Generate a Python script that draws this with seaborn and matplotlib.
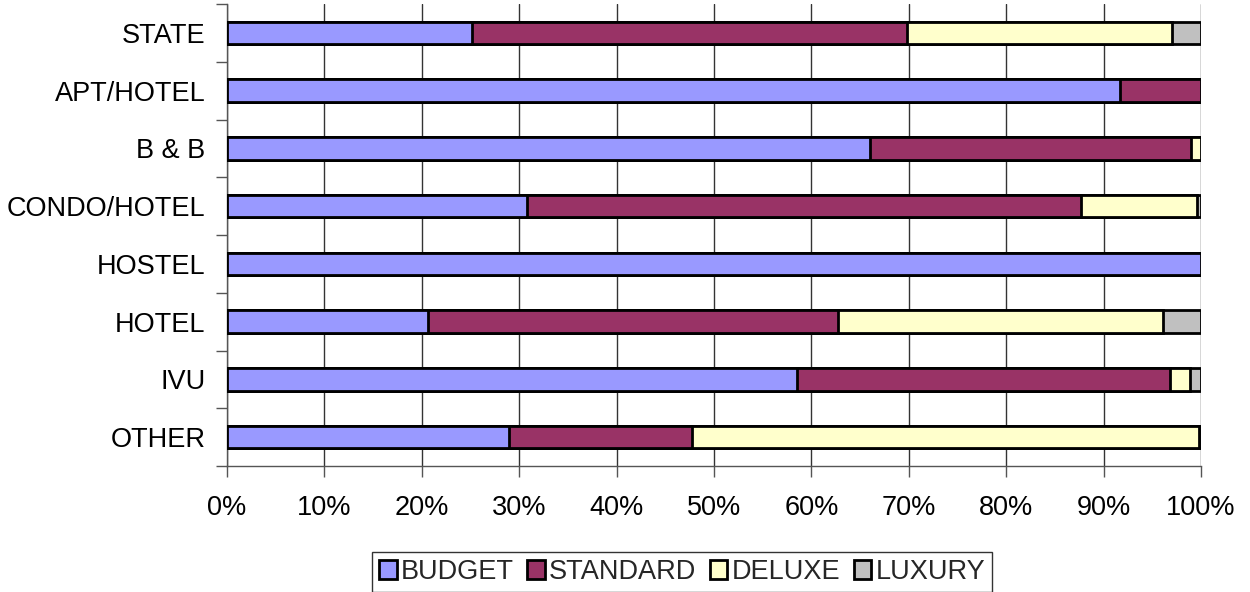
import numpy as np
import pandas as pd
import matplotlib.pyplot as plt
import matplotlib.ticker as mticker
from matplotlib.patches import Patch
import seaborn as sns

categories = ["STATE", "APT/HOTEL", "B & B", "CONDO/HOTEL", "HOSTEL", "HOTEL", "IVU", "OTHER"]
budget = [25.2, 91.7, 66.0, 30.8, 100.0, 20.6, 58.5, 29.0]
standard = [44.6, 8.3, 33.0, 56.9, 0.0, 42.1, 38.3, 18.7]
deluxe = [27.2, 0.0, 1.0, 11.9, 0.0, 33.4, 2.1, 52.1]
luxury = [3.0, 0.0, 0.0, 0.4, 0.0, 3.9, 1.1, 0.2]

series = ["BUDGET", "STANDARD", "DELUXE", "LUXURY"]
colors = ["#9999FF", "#993366", "#FFFFCC", "#C0C0C0"]

sns.set_theme(style="white")
plt.rcParams['font.family'] = ['Liberation Sans', 'DejaVu Sans']
FS = 19.5

df = pd.DataFrame({"cat": categories, "BUDGET": budget, "STANDARD": standard,
                   "DELUXE": deluxe, "LUXURY": luxury})
cum = df[series].cumsum(axis=1)

fig = plt.figure(figsize=(12.5, 5.92), dpi=100)
ax = fig.add_axes([0.1816, 0.2128, 0.7792, 0.7804])

# draw cumulative totals from widest to narrowest so segments stack
for name, col in reversed(list(zip(series, colors))):
    sns.barplot(x=cum[name], y=df["cat"], orient="h", color=col, width=0.39,
                edgecolor="black", linewidth=2, saturation=1, ax=ax, zorder=3)

ax.set_xlim(0, 100)
ax.set_ylim(len(categories) - 0.5, -0.5)
ax.xaxis.set_major_locator(mticker.MultipleLocator(10))
ax.xaxis.set_major_formatter(mticker.FuncFormatter(lambda v, p: f"{v:.0f}%"))
ax.grid(axis="x", color="#333333", linewidth=1, zorder=0)
ax.set_axisbelow(True)
ax.set_xlabel("")
ax.set_ylabel("")

for s in ["top", "right"]:
    ax.spines[s].set_visible(False)
for s in ["left", "bottom"]:
    ax.spines[s].set_color("#555555")
    ax.spines[s].set_linewidth(1)

ax.tick_params(axis="y", which="major", length=0, labelsize=FS, pad=15.5, colors="black")
ax.yaxis.set_minor_locator(mticker.FixedLocator(np.arange(-0.5, len(categories), 1)))
ax.tick_params(axis="y", which="minor", left=True, length=8, width=1, color="#555555")
ax.tick_params(axis="x", which="major", bottom=True, length=8, width=1, color="#555555",
               labelsize=FS, pad=13, labelcolor="black")

handles = [Patch(facecolor=c, edgecolor="black", linewidth=2, label=n) for n, c in zip(series, colors)]
leg = fig.legend(handles=handles, loc="center", bbox_to_anchor=(682 / 1250, 1 - 572 / 592),
                 ncol=4, fontsize=FS, frameon=True, fancybox=False, handlelength=0.65,
                 handleheight=0.65, handletextpad=0.15, columnspacing=0.5,
                 borderpad=0.25, borderaxespad=0)
leg.get_frame().set_edgecolor("black")
leg.get_frame().set_linewidth(1)

fig.savefig("out.png", dpi=100)
